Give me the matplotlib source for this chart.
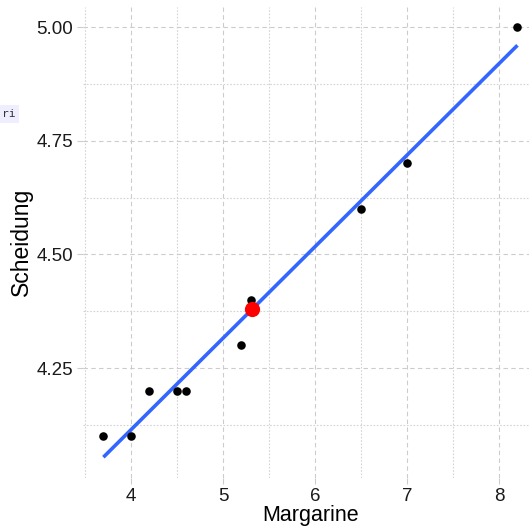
import numpy as np
import matplotlib.pyplot as plt
from matplotlib.ticker import MultipleLocator

plt.rcParams['font.family'] = ['Liberation Sans', 'DejaVu Sans']

# Margarine consumption vs divorce rate
margarine = [8.2, 7.0, 6.5, 5.3, 5.2, 4.0, 4.6, 4.5, 4.2, 3.7]
scheidung = [5.0, 4.7, 4.6, 4.4, 4.3, 4.1, 4.2, 4.2, 4.2, 4.1]
x_ticks = [4, 5, 6, 7, 8]
y_ticks = [4.25, 4.50, 4.75, 5.00]

x = np.array(margarine)
y = np.array(scheidung)

fig = plt.figure(figsize=(5.29, 5.29), dpi=100)
ax = fig.add_axes([0.1563, 0.0964, 0.861, 0.891])

# linear fit like geom_smooth(method = "lm")
slope, intercept = np.polyfit(x, y, 1)
xs = np.linspace(x.min(), x.max(), 50)
ax.plot(xs, intercept + slope * xs, color='#3366FF', lw=2.6, zorder=2,
        solid_capstyle='butt')

ax.scatter(x, y, s=38, color='black', zorder=3, linewidths=0)
ax.scatter([x.mean()], [y.mean()], s=120, color='#FF0000', zorder=4, linewidths=0)

ax.set_xlim(3.475, 8.425)
ax.set_ylim(4.008, 5.045)
ax.set_xticks(x_ticks)
ax.set_yticks(y_ticks)
ax.set_yticklabels(['%.2f' % v for v in y_ticks])
ax.xaxis.set_minor_locator(MultipleLocator(0.5))
ax.yaxis.set_minor_locator(MultipleLocator(0.125))

ax.grid(which='major', color='#cccccc', lw=0.8, linestyle=(0, (4, 3)))
ax.grid(which='minor', color='#d4d4d4', lw=0.8, linestyle=(0, (1.5, 1.5)))
ax.set_axisbelow(True)

for s in ax.spines.values():
    s.set_visible(False)
ax.tick_params(which='major', length=4, width=0.8, color='#cccccc',
               labelsize=13.5, labelcolor='#1a1a1a', pad=3)
ax.tick_params(which='minor', length=0)

ax.set_xlabel('Margarine', fontsize=15.5, color='black', labelpad=0)
ax.set_ylabel('Scheidung', fontsize=16.5, color='black', labelpad=2)

# leftover overlay fragment at the left edge
fig.text(0.003, 0.785, 'ri', fontsize=8, family='DejaVu Sans Mono', color='#333333',
         va='center', ha='left',
         bbox=dict(facecolor='#eeeeff', edgecolor='none', pad=3))

fig.savefig('out.png', dpi=100)
